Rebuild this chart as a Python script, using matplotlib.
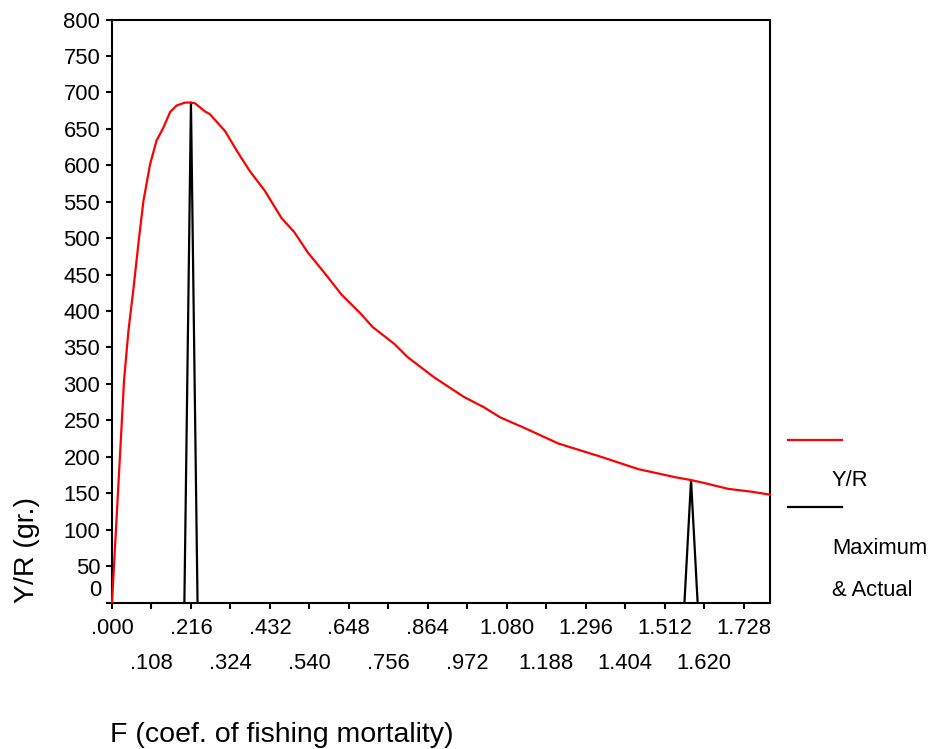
import numpy as np
import matplotlib
matplotlib.use("Agg")
import matplotlib.pyplot as plt
from matplotlib.lines import Line2D

plt.rcParams['font.family'] = ['Liberation Sans', 'DejaVu Sans']

# Yield per recruit curve (F, Y/R)
f_values = [0.000, 0.033, 0.045, 0.059, 0.073, 0.086, 0.104, 0.122, 0.140, 0.159,
            0.177, 0.200, 0.216, 0.227, 0.254, 0.268, 0.309, 0.345, 0.377, 0.418,
            0.463, 0.499, 0.536, 0.577, 0.627, 0.681, 0.713, 0.772, 0.808, 0.881,
            0.963, 1.017, 1.062, 1.126, 1.222, 1.331, 1.440, 1.540, 1.584, 1.620,
            1.685, 1.750, 1.800]
yr_values = [0, 305, 373, 432, 496, 551, 601, 634, 651, 673,
             682, 686, 686, 685, 674, 670, 647, 617, 592, 565,
             528, 508, 480, 455, 423, 396, 378, 355, 337, 309,
             282, 268, 254, 240, 218, 201, 183, 172, 168, 164,
             156, 152, 148]

# Maximum & actual markers (spikes)
spike_f = [0.198, 0.216, 0.234, np.nan, 1.566, 1.584, 1.602]
spike_y = [0, 686, 0, np.nan, 0, 168, 0]

x_ticks = [0.000, 0.108, 0.216, 0.324, 0.432, 0.540, 0.648, 0.756, 0.864, 0.972,
           1.080, 1.188, 1.296, 1.404, 1.512, 1.620, 1.728]
x_tick_labels = ['.000', '.108', '.216', '.324', '.432', '.540', '.648', '.756', '.864',
                 '.972', '1.080', '1.188', '1.296', '1.404', '1.512', '1.620', '1.728']
y_ticks = list(range(0, 801, 50))

W, H = 933, 749
fig = plt.figure(figsize=(W / 100, H / 100), dpi=100)
ax = fig.add_axes([112 / W, 1 - 602.5 / H, (770 - 112) / W, (602.5 - 19.5) / H])

ax.plot(f_values, yr_values, color='#ff0000', lw=1.6, clip_on=False, zorder=3)
ax.plot(spike_f, spike_y, color='black', lw=1.6, zorder=2)

ax.set_xlim(0, 1.8)
ax.set_ylim(0, 800)

tick_fs = 15.8
title_fs = 20.5
# y ticks
ax.set_yticks(y_ticks)
ax.set_yticklabels(['' if v == 0 else str(v) for v in y_ticks], fontsize=tick_fs)
ax.tick_params(axis='y', direction='out', length=4.5, width=1.5, pad=4)
ax.annotate('0', xy=(0, 0), xycoords=('axes fraction', 'data'),
            xytext=(-10.5, 12), textcoords='offset pixels',
            ha='right', va='center', fontsize=tick_fs)

# x ticks: alternating rows
major = x_ticks[0::2]
minor = x_ticks[1::2]
ax.set_xticks(major)
ax.set_xticklabels(x_tick_labels[0::2], fontsize=tick_fs)
ax.set_xticks(minor, minor=True)
ax.set_xticklabels(x_tick_labels[1::2], minor=True, fontsize=tick_fs)
ax.tick_params(axis='x', which='major', direction='out', length=4.5, width=1.5, pad=6.5)
ax.tick_params(axis='x', which='minor', direction='out', length=4.5, width=1.5, pad=32)

for s in ax.spines.values():
    s.set_linewidth(1.5)

# axis titles
fig.text(27 / W, 1 - 603 / H, 'Y/R (gr.)', rotation=90, ha='center', va='bottom', fontsize=title_fs)
fig.text(110 / W, 1 - 735 / H, 'F (coef. of fishing mortality)', ha='left', va='center', fontsize=title_fs)

# legend
fig.add_artist(Line2D([788 / W, 842 / W], [1 - 440 / H, 1 - 440 / H], color='#ff0000', lw=1.6,
                      transform=fig.transFigure))
fig.add_artist(Line2D([788 / W, 842 / W], [1 - 507 / H, 1 - 507 / H], color='black', lw=1.6,
                      transform=fig.transFigure))
fig.text(832 / W, 1 - 480 / H, 'Y/R', ha='left', va='center', fontsize=tick_fs)
fig.text(832 / W, 1 - 548 / H, 'Maximum', ha='left', va='center', fontsize=tick_fs)
fig.text(832 / W, 1 - 590 / H, '& Actual', ha='left', va='center', fontsize=tick_fs)

fig.savefig('out.png', dpi=100)
